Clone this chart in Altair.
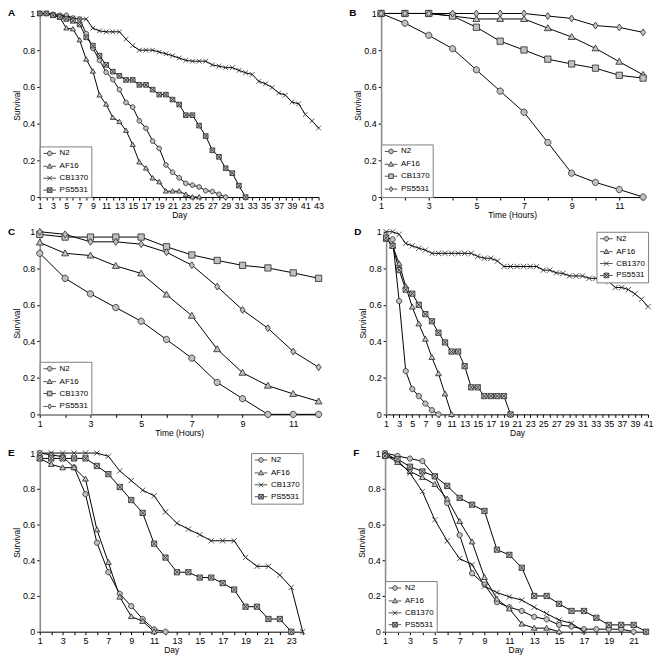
import altair as alt
import pandas as pd

series_names = ["N2", "AF16", "CB1370", "PS5531"]
panel_letters = ["A", "B", "C", "D", "E", "F"]
x_titles = ["Day", "Time (Hours)", "Time (Hours)", "Day", "Day", "Day"]

# ---- Panel A (days) ----
a_x = list(range(1, 44))
a_n2 = [1, 1, 0.995, 0.99, 0.99, 0.975, 0.97, 0.89, 0.81, 0.745, 0.68, 0.64, 0.585, 0.515, 0.49,
        0.415, 0.375, 0.305, 0.265, 0.175, 0.135, 0.105, 0.075, 0.065, 0.055, 0.035, 0.03, 0.015, 0.0]
a_af16 = [1, 1, 0.99, 0.98, 0.92, 0.915, 0.855, 0.75, 0.685, 0.555, 0.505, 0.433, 0.41, 0.362, 0.285,
          0.19, 0.157, 0.103, 0.082, 0.032, 0.032, 0.032, 0.014, 0.0, 0.0]
a_cb1370 = [1, 1, 0.995, 0.99, 0.98, 0.975, 0.97, 0.97, 0.92, 0.905, 0.9, 0.9, 0.9, 0.86, 0.825,
            0.8, 0.8, 0.8, 0.79, 0.78, 0.77, 0.757, 0.745, 0.74, 0.74, 0.74, 0.72, 0.713, 0.705, 0.705,
            0.69, 0.677, 0.668, 0.63, 0.617, 0.597, 0.567, 0.555, 0.517, 0.508, 0.45, 0.415, 0.376]
a_ps5531 = [1, 1, 0.99, 0.98, 0.97, 0.96, 0.94, 0.87, 0.825, 0.77, 0.72, 0.683, 0.66, 0.638, 0.638,
            0.611, 0.611, 0.585, 0.558, 0.558, 0.531, 0.504, 0.446, 0.446, 0.389, 0.332, 0.255, 0.219,
            0.157, 0.13, 0.062, 0.0]

# ---- Panel B (hours) ----
b_x = list(range(1, 13))
b_n2 = [1, 0.947, 0.881, 0.808, 0.693, 0.577, 0.462, 0.297, 0.13, 0.08, 0.041, 0.0]
b_af16 = [1, 1, 1, 0.986, 0.97, 0.97, 0.97, 0.92, 0.872, 0.81, 0.737, 0.666]
b_cb1370 = [1, 1, 1, 0.986, 0.925, 0.849, 0.801, 0.751, 0.725, 0.702, 0.663, 0.648]
b_ps5531 = [1, 1, 1, 1, 1, 1, 1, 0.986, 0.973, 0.934, 0.924, 0.897]

# ---- Panel C (hours) ----
c_x = list(range(1, 13))
c_n2 = [0.882, 0.745, 0.66, 0.585, 0.51, 0.41, 0.308, 0.175, 0.086, 0.0, 0.0, 0.0]
c_af16 = [0.941, 0.882, 0.87, 0.813, 0.772, 0.656, 0.54, 0.357, 0.228, 0.157, 0.112, 0.071]
c_cb1370 = [0.986, 0.971, 0.971, 0.971, 0.971, 0.918, 0.873, 0.843, 0.816, 0.802, 0.775, 0.745]
c_ps5531 = [1, 0.986, 0.945, 0.945, 0.932, 0.888, 0.817, 0.7, 0.572, 0.472, 0.344, 0.258]

# ---- Panel D (days) ----
d_x = list(range(1, 42))
d_n2 = [0.968, 0.959, 0.62, 0.237, 0.139, 0.1, 0.059, 0.023, 0.0]
d_af16 = [0.959, 0.923, 0.825, 0.7, 0.588, 0.496, 0.412, 0.312, 0.223, 0.112, 0.0]
d_cb1370 = [1, 1, 0.986, 0.936, 0.923, 0.91, 0.9, 0.882, 0.882, 0.882, 0.882, 0.882, 0.882, 0.882,
            0.865, 0.855, 0.855, 0.84, 0.81, 0.81, 0.81, 0.81, 0.81, 0.81, 0.79, 0.79, 0.775, 0.772,
            0.758, 0.758, 0.758, 0.745, 0.745, 0.745, 0.727, 0.695, 0.695, 0.683, 0.66, 0.63, 0.59]
d_ps5531 = [0.968, 0.923, 0.79, 0.683, 0.661, 0.6, 0.549, 0.51, 0.447, 0.394, 0.344, 0.344, 0.264,
            0.148, 0.148, 0.1, 0.1, 0.1, 0.1, 0.0]

# ---- Panel E (days) ----
e_x = list(range(1, 25))
e_n2 = [1, 0.99, 0.98, 0.92, 0.77, 0.498, 0.333, 0.212, 0.143, 0.071, 0.013, 0.0]
e_af16 = [0.97, 0.937, 0.918, 0.918, 0.855, 0.571, 0.388, 0.194, 0.085, 0.058, 0.0]
e_cb1370 = [1, 1, 1, 1, 1, 1, 0.982, 0.9, 0.846, 0.792, 0.761, 0.67, 0.607, 0.574, 0.543, 0.509,
            0.509, 0.509, 0.415, 0.366, 0.366, 0.317, 0.248, 0.0]
e_ps5531 = [0.97, 0.97, 0.97, 0.97, 0.97, 0.928, 0.882, 0.81, 0.737, 0.665, 0.493, 0.415, 0.333,
            0.333, 0.303, 0.303, 0.272, 0.236, 0.14, 0.14, 0.071, 0.071, 0.0]

# ---- Panel F (days) ----
f_x = list(range(1, 23))
f_n2 = [1, 0.984, 0.969, 0.955, 0.87, 0.72, 0.541, 0.327, 0.264, 0.165, 0.137, 0.116, 0.083, 0.069,
        0.038, 0.029, 0.014, 0.014, 0.014, 0.014, 0.0]
f_af16 = [0.99, 0.948, 0.897, 0.864, 0.825, 0.743, 0.617, 0.503, 0.304, 0.183, 0.128, 0.043, 0.02,
          0.02, 0.0]
f_cb1370 = [1, 0.96, 0.888, 0.785, 0.626, 0.508, 0.409, 0.376, 0.255, 0.219, 0.195, 0.177, 0.137,
            0.101, 0.065, 0.047, 0.0]
f_ps5531 = [0.984, 0.966, 0.924, 0.897, 0.87, 0.816, 0.749, 0.711, 0.676, 0.459, 0.43, 0.358, 0.2,
            0.2, 0.156, 0.116, 0.116, 0.078, 0.038, 0.038, 0.038, 0.0]

# ---- marker shapes (unit paths) ----
P_CIRCLE = "M-1,0A1,1,0,1,1,1,0A1,1,0,1,1,-1,0Z"
P_TRI = "M0,-1.1L1.1,0.8L-1.1,0.8Z"
P_X = "M-1,-1L1,1M-1,1L1,-1"
P_STAR = "M-1,-1L1,-1L1,1L-1,1Z M-1,-1L1,1M-1,1L1,-1"
P_SQUARE = "M-1,-1L1,-1L1,1L-1,1Z"
P_DIAMOND = "M0,-1.1L0.8,0L0,1.1L-0.8,0Z"
SEG = "M-2.7,0L-1,0M1,0L2.7,0 "
FULL = "M-2.7,0L2.7,0 "

shapes_day = [P_CIRCLE, P_TRI, P_X, P_STAR]
shapes_hour = [P_CIRCLE, P_TRI, P_SQUARE, P_DIAMOND]
legend_day = [SEG + P_CIRCLE, SEG + P_TRI, FULL + P_X, SEG + P_STAR]
legend_hour = [SEG + P_CIRCLE, SEG + P_TRI, SEG + P_SQUARE, SEG + P_DIAMOND]

FONT = "Liberation Sans"


def make_panel(letter, xs, vals, xtitle, w, h, shapes, lshapes, msize, orient):
    rows = []
    for name, v in zip(series_names, vals):
        for xi, yi in zip(xs, v):
            rows.append({"series": name, "x": xi, "y": yi})
    df = pd.DataFrame(rows)
    xmax = xs[-1]
    xscale = alt.Scale(domain=[1, xmax], nice=False, zero=False)
    yscale = alt.Scale(domain=[0, 1], nice=False, zero=True)
    xaxis = alt.Axis(values=xs, labelExpr="datum.value % 2 == 1 ? datum.label : ''",
                     title=xtitle, grid=False, tickSize=3, labelPadding=2, labelOverlap=False,
                     labelFlush=False, domainColor="black", tickColor="black", labelFontSize=9,
                     titleFontSize=8.5, titlePadding=0)
    yaxis = alt.Axis(values=[0, 0.2, 0.4, 0.6, 0.8, 1], format=".1~f", title="Survival", grid=False,
                     tickSize=3, labelPadding=2, domainColor="#8c8c8c", domainWidth=1.6,
                     tickColor="black", labelFontSize=9, titleFontSize=8.5, titlePadding=1)
    xe = alt.X("x:Q", scale=xscale, axis=xaxis)
    ye = alt.Y("y:Q", scale=yscale, axis=yaxis)
    base = alt.Chart(df)
    lines = base.mark_line(color="black", strokeWidth=1).encode(x=xe, y=ye, detail="series:N")
    pts = base.mark_point(filled=True, fill="#c0c0c0", stroke="#262626", strokeWidth=0.8,
                          size=msize, opacity=1).encode(
        x=xe, y=ye,
        shape=alt.Shape("series:N", scale=alt.Scale(domain=series_names, range=shapes), legend=None),
    )
    leg = base.transform_filter("false").mark_point(
        filled=False, fill="#c0c0c0", stroke="#262626", color="#262626", strokeWidth=0.8, size=22,
        opacity=1).encode(
        x=xe, y=ye,
        shape=alt.Shape("series:N", scale=alt.Scale(domain=series_names, range=lshapes),
                        legend=alt.Legend(title=None, orient=orient, offset=0, padding=3,
                                          fillColor="white", strokeColor="#808080",
                                          labelFontSize=8, labelFont=FONT, labelColor="black",
                                          rowPadding=4, symbolSize=22, symbolOffset=3,
                                          labelOffset=6, symbolStrokeWidth=0.8)),
    )
    lab = alt.Chart(pd.DataFrame({"letter": [letter]})).mark_text(
        align="left", baseline="middle", fontWeight="bold", fontSize=10, font=FONT, color="black"
    ).encode(text="letter:N", x=alt.value(-32), y=alt.value(0))
    return alt.layer(lines, pts, leg, lab).resolve_scale(shape="independent").properties(width=w, height=h)


pA = make_panel(panel_letters[0], a_x, [a_n2, a_af16, a_cb1370, a_ps5531], x_titles[0], 281, 185,
                shapes_day, legend_day, 22, "bottom-left")
pB = make_panel(panel_letters[1], b_x, [b_n2, b_af16, b_cb1370, b_ps5531], x_titles[1], 264, 185,
                shapes_hour, legend_hour, 40, "bottom-left")
pC = make_panel(panel_letters[2], c_x, [c_n2, c_af16, c_cb1370, c_ps5531], x_titles[2], 281, 184,
                shapes_hour, legend_hour, 40, "bottom-left")
pD = make_panel(panel_letters[3], d_x, [d_n2, d_af16, d_cb1370, d_ps5531], x_titles[3], 264, 184,
                shapes_day, legend_day, 28, "top-right")
pE = make_panel(panel_letters[4], e_x, [e_n2, e_af16, e_cb1370, e_ps5531], x_titles[4], 265, 180,
                shapes_day, legend_day, 28, "top-right")
pF = make_panel(panel_letters[5], f_x, [f_n2, f_af16, f_cb1370, f_ps5531], x_titles[5], 263, 180,
                shapes_day, legend_day, 28, "bottom-left")

row1 = alt.hconcat(pA, pB, spacing=25)
row2 = alt.hconcat(pC, pD, spacing=30)
row3 = alt.hconcat(pE, pF, spacing=46)

chart = alt.vconcat(row1, alt.vconcat(row2, row3, spacing=11), spacing=6).properties(
    padding={"top": -3, "left": 0, "right": 0, "bottom": 0}
).configure_axis(
    labelFont=FONT, titleFont=FONT, titleFontWeight="normal", labelColor="black", titleColor="black"
).configure_view(stroke=None)

chart.save("out.html", embed_options={"renderer": "svg", "actions": False})
